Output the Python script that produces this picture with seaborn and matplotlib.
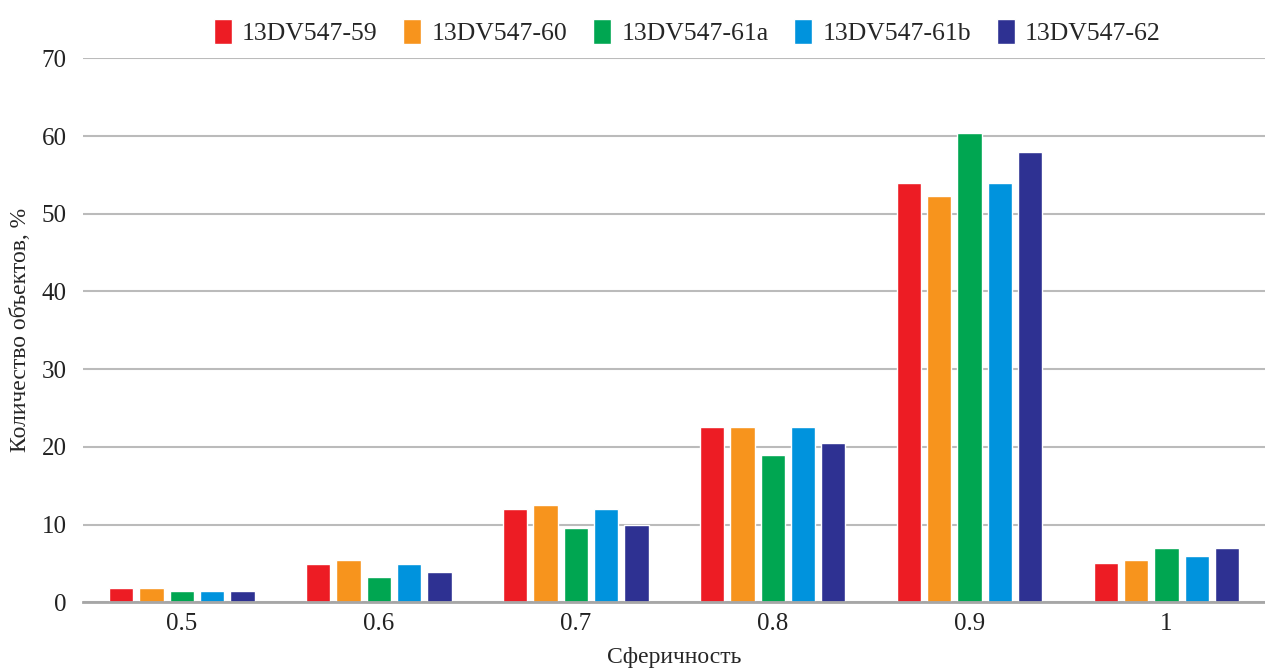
import seaborn as sns
import pandas as pd
import matplotlib.pyplot as plt

categories = ['0.5', '0.6', '0.7', '0.8', '0.9', '1']
samples = ['13DV547-59', '13DV547-60', '13DV547-61a', '13DV547-61b', '13DV547-62']

s59 = [1.9, 4.9, 12.0, 22.5, 53.9, 5.0]
s60 = [1.9, 5.4, 12.5, 22.5, 52.3, 5.4]
s61a = [1.4, 3.3, 9.5, 19.0, 60.4, 7.0]
s61b = [1.4, 4.9, 12.0, 22.5, 53.9, 6.0]
s62 = [1.4, 3.9, 10.0, 20.5, 57.9, 7.0]

colors = ['#ED1C24', '#F7941D', '#00A651', '#0093DD', '#2E3192']

rows = []
for name, vals in zip(samples, [s59, s60, s61a, s61b, s62]):
    for c, v in zip(categories, vals):
        rows.append({'cat': c, 'sample': name, 'val': v})
df = pd.DataFrame(rows)

sns.set_style('white')
plt.rcParams['font.family'] = ['Liberation Serif', 'DejaVu Serif']

fig = plt.figure(figsize=(12.65, 6.7), dpi=100)
ax = fig.add_axes([0.066, 0.101, 0.934, 0.812])

sns.barplot(data=df, x='cat', y='val', hue='sample', order=categories,
            hue_order=samples, palette=colors, width=0.77, gap=0.2,
            saturation=1, ax=ax)

ax.set_ylim(0, 70)
ax.set_yticks(range(0, 71, 10))
ax.yaxis.grid(True, color='#BBBBBB', linewidth=1.5)
ax.set_axisbelow(True)
for s in ['top', 'right', 'left']:
    ax.spines[s].set_visible(False)
ax.spines['bottom'].set_color('#A6A6A6')
ax.spines['bottom'].set_linewidth(2)
ax.tick_params(axis='both', labelsize=18, length=0, colors='#222222')
ax.tick_params(axis='y', pad=12)
ax.tick_params(axis='x', pad=8)
ax.set_xlabel('Сферичность', fontsize=17, labelpad=8)
ax.set_ylabel('Количество объектов, %', fontsize=17, labelpad=8)

ax.legend(loc='lower center', bbox_to_anchor=(0.511, 1.005), ncol=5, frameon=False,
          fontsize=18.5, handlelength=0.7, handleheight=1.1, handletextpad=0.4,
          columnspacing=1.0, borderaxespad=0.0)

fig.savefig('out.png', dpi=100)
